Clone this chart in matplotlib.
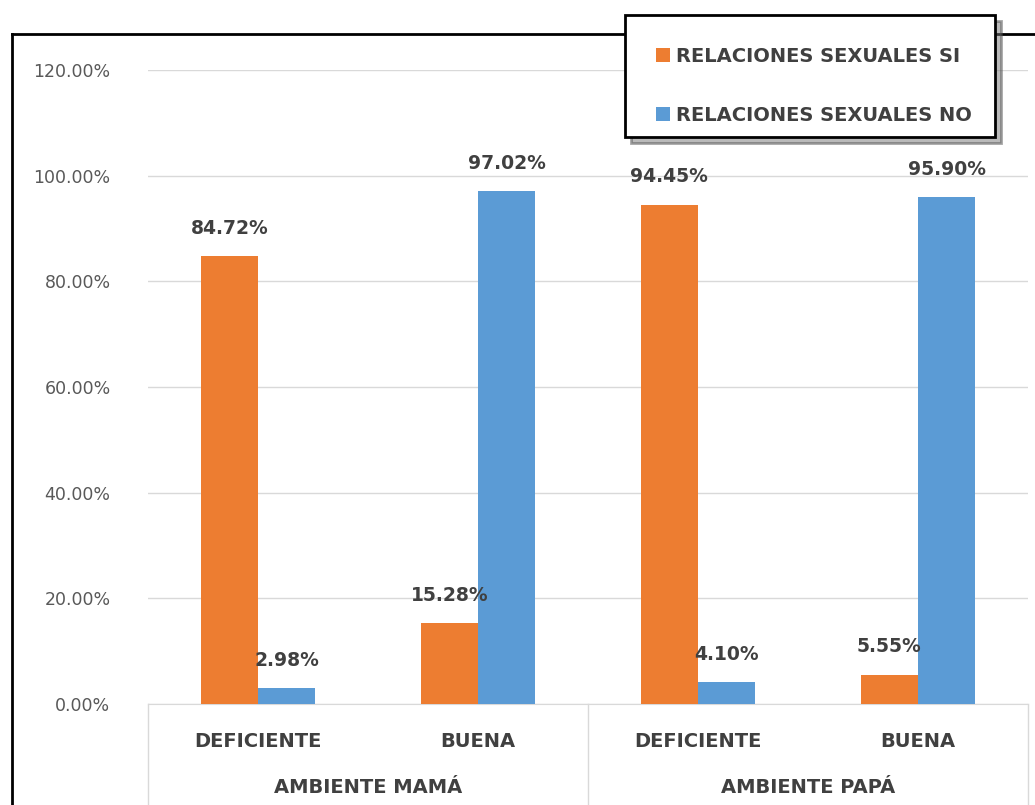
import numpy as np
import matplotlib
matplotlib.use("Agg")
import matplotlib.pyplot as plt
from matplotlib.lines import Line2D
from matplotlib.patches import Rectangle, Shadow

plt.rcParams['font.family'] = ['DejaVu Sans']

categories = ["DEFICIENTE", "BUENA", "DEFICIENTE", "BUENA"]
groups = ["AMBIENTE MAMÁ", "AMBIENTE PAPÁ"]
si_vals = [84.72, 15.28, 94.45, 5.55]
no_vals = [2.98, 97.02, 4.10, 95.90]
series_names = ["RELACIONES SEXUALES SI", "RELACIONES SEXUALES NO"]
yticks = [0, 20, 40, 60, 80, 100, 120]

orange = "#ED7D31"
blue = "#5B9BD5"
txt = "#404040"
grid_c = "#D9D9D9"

fig = plt.figure(figsize=(10.35, 8.05), dpi=100)
ax = fig.add_axes([148/1035, 101/805, 880/1035, 634/805])

x = np.arange(len(categories))
w = 0.26
b1 = ax.bar(x - w/2, si_vals, w, color=orange, label=series_names[0], zorder=3)
b2 = ax.bar(x + w/2, no_vals, w, color=blue, label=series_names[1], zorder=3)

for bars, vals in ((b1, si_vals), (b2, no_vals)):
    for r, v in zip(bars, vals):
        ax.text(r.get_x() + r.get_width()/2, v + 3.5, f"{v:.2f}%", ha="center", va="bottom",
                fontsize=13.5, fontweight="bold", color=txt)

ax.set_xlim(-0.5, 3.5)
ax.set_ylim(0, 120)
ax.set_yticks(yticks)
ax.set_yticklabels([f"{t:.2f}%" for t in yticks], fontsize=12.5, color="#595959")
ax.tick_params(axis="y", length=0, pad=27)
ax.yaxis.grid(True, color=grid_c, linewidth=1, zorder=0)
for s in ("top", "right", "left"):
    ax.spines[s].set_visible(False)
ax.spines["bottom"].set_color(grid_c)

ax.set_xticks(x)
ax.set_xticklabels(categories, fontsize=14, fontweight="bold", color=txt)
ax.tick_params(axis="x", length=0, pad=20)

trans = ax.get_xaxis_transform()
for gx in (-0.5, 1.5, 3.5):
    ax.plot([gx, gx], [0, -0.17], color=grid_c, lw=1, transform=trans, clip_on=False)
for gi, g in enumerate(groups):
    ax.text(gi*2 + 0.5, -0.131, g, transform=trans, ha="center", va="center",
            fontsize=14, fontweight="bold", color=txt)

# outer border
fig.add_artist(Line2D([12/1035, 1], [1 - 34/805, 1 - 34/805], color="black", lw=2, transform=fig.transFigure))
fig.add_artist(Line2D([12/1035, 12/1035], [0, 1 - 34/805], color="black", lw=2, transform=fig.transFigure))

# legend box
lx0, ly0 = 625/1035, 1 - 137/805
lw_, lh_ = 370/1035, 122/805
box = Rectangle((lx0, ly0), lw_, lh_, transform=fig.transFigure, facecolor="white",
                edgecolor="black", lw=2, zorder=5)
sh = Shadow(box, 4/1035, -4/805, zorder=4)
sh.set_transform(fig.transFigure)
sh.set_facecolor("#777777")
sh.set_alpha(0.5)
fig.add_artist(sh)
fig.add_artist(box)
leg = fig.legend(handles=[b1, b2], loc="center", bbox_to_anchor=(lx0 + lw_/2 + 4/1035, ly0 + lh_/2 - 10/805),
                 frameon=False, handlelength=0.7, handleheight=0.7,
                 handletextpad=0.3, labelspacing=2.05, prop={"weight": "bold", "size": 14})
leg.set_zorder(6)
for t in leg.get_texts():
    t.set_color(txt)

fig.savefig("out.png", dpi=100)
